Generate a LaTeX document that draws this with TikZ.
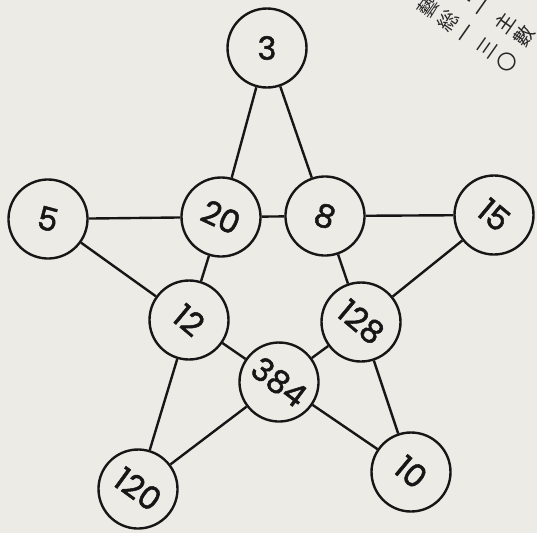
\documentclass[tikz,border=0pt]{standalone}
\usepackage{fontspec}
\setmainfont{Poppins}
\newfontfamily\numfont{Poppins}[FakeBold=1.6]
\newfontfamily\jpfont{Noto Sans CJK JP}
\definecolor{paper}{RGB}{237,235,230}
\definecolor{ink}{RGB}{22,22,22}
\definecolor{printgray}{RGB}{40,40,40}
\tikzstyle{num} = [
    circle,
    draw=ink,
    fill=paper,
    line width=2.4pt,
    minimum size=79pt,
    inner sep=0pt,
    text=ink,
    font=\numfont\fontsize{32}{32}\selectfont
]
\tikzstyle{link} = [
    line width=2.4pt,
    draw=ink
]
\tikzstyle{jp} = [
    text=printgray,
    inner sep=0pt,
    rotate=55,
    font=\jpfont\fontsize{20}{20}\selectfont
]

\begin{document}
\begin{tikzpicture}[x=1pt, y=-1pt]
        \useasboundingbox (0,0) rectangle (537,533);
        \clip (0,0) rectangle (537,533);
        \fill[paper] (0,0) rectangle (537,533);

        % Numbers
        \node[num] (n3) at (267,48) {3};
        \node[num, rotate=-15] (n5) at (48,219) {5};
        \node[num, rotate=-25] (n20) at (221,217) {20};
        \node[num, rotate=-20] (n8) at (325,216) {8};
        \node[num, rotate=-40] (n15) at (494,215) {15};
        \node[num, rotate=-40] (n12) at (189,320) {12};
        \node[num, rotate=-40] (n128) at (361,322) {128};
        \node[num, rotate=-37] (n384) at (279,382) {384};
        \node[num, rotate=-36] (n120) at (138,489) {120};
        \node[num, rotate=-40] (n10) at (411,472) {10};

        % Lines
        \draw[link] (n3) -- (n20);
        \draw[link] (n3) -- (n8);
        \draw[link] (n5) -- (n20);
        \draw[link] (n20) -- (n8);
        \draw[link] (n8) -- (n15);
        \draw[link] (n5) -- (n12);
        \draw[link] (n15) -- (n128);
        \draw[link] (n20) -- (n12);
        \draw[link] (n8) -- (n128);
        \draw[link] (n12) -- (n384);
        \draw[link] (n128) -- (n384);
        \draw[link] (n12) -- (n120);
        \draw[link] (n128) -- (n10);
        \draw[link] (n384) -- (n120);
        \draw[link] (n384) -- (n10);

        % Printed text, corner
        \foreach \c [count=\i from 0] in {ト,一,主,數}
            \node[jp] (jpa\i) at ({465+19.7*\i},{-5+13.8*\i}) {\c};
        \foreach \c [count=\i from 0] in {藝,総,一,三,〇}
            \node[jp] (jpb\i) at ({428+19.7*\i},{7+13.8*\i}) {\c};
    \end{tikzpicture}
\end{document}
